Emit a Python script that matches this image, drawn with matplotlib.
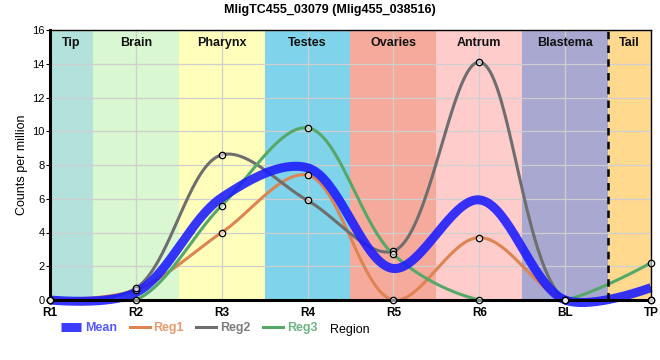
import numpy as np
import matplotlib
matplotlib.use("Agg")
import matplotlib.pyplot as plt
from matplotlib.lines import Line2D

plt.rcParams['font.family'] = ['Liberation Sans', 'DejaVu Sans']

# ---- data ----
samples = ["R1", "R2", "R3", "R4", "R5", "R6", "BL", "TP"]
reg1 = [0.0, 0.6, 4.0, 7.4, 0.0, 3.7, 0.0, 0.0]
reg2 = [0.0, 0.7, 8.6, 5.9, 2.9, 14.1, 0.0, 0.0]
reg3 = [0.0, 0.0, 5.6, 10.2, 2.7, 0.0, 0.0, 2.2]
regions = ["Tip", "Brain", "Pharynx", "Testes", "Ovaries", "Antrum", "Blastema", "Tail"]
region_bounds = [(0, 0.5), (0.5, 1.5), (1.5, 2.5), (2.5, 3.5), (3.5, 4.5), (4.5, 5.5), (5.5, 6.5), (6.5, 7)]
region_colors = ["#b3e2dd", "#d9f7d0", "#ffffbb", "#7fd3ea", "#f5aa9c", "#ffcccc", "#a9a8d1", "#fed98e"]
title = "MligTC455_03079 (Mlig455_038516)"

mean = list(np.mean([reg1, reg2, reg3], axis=0))


def catmull_rom_display(ax, xs, ys, alpha=0.5, n=40):
    """Centripetal Catmull-Rom curve computed in display space, returned in data space."""
    P = ax.transData.transform(np.column_stack([xs, ys]))
    N = len(P)
    out = [P[0]]
    for i in range(N - 1):
        p0 = P[i - 1] if i > 0 else None
        p1, p2 = P[i], P[i + 1]
        p3 = P[i + 2] if i + 2 < N else None
        l12 = np.linalg.norm(p2 - p1)
        l12_a, l12_2a = l12 ** alpha, l12 ** (2 * alpha)
        c1 = p1.copy()
        if p0 is not None:
            l01 = np.linalg.norm(p1 - p0)
            l01_a, l01_2a = l01 ** alpha, l01 ** (2 * alpha)
            if l01_a > 1e-12:
                a = 2 * l01_2a + 3 * l01_a * l12_a + l12_2a
                m = 3 * l01_a * (l01_a + l12_a)
                c1 = (p1 * a - p0 * l12_2a + p2 * l01_2a) / m
        c2 = p2.copy()
        if p3 is not None:
            l23 = np.linalg.norm(p3 - p2)
            l23_a, l23_2a = l23 ** alpha, l23 ** (2 * alpha)
            if l23_a > 1e-12:
                b = 2 * l23_2a + 3 * l23_a * l12_a + l12_2a
                m = 3 * l23_a * (l23_a + l12_a)
                c2 = (p2 * b + p1 * l23_2a - p3 * l12_2a) / m
        t = np.linspace(0, 1, n)[1:, None]
        seg = ((1 - t) ** 3) * p1 + 3 * ((1 - t) ** 2) * t * c1 + 3 * (1 - t) * t ** 2 * c2 + t ** 3 * p2
        out.extend(seg)
    out = np.array(out)
    D = ax.transData.inverted().transform(out)
    return D[:, 0], D[:, 1]


fig = plt.figure(figsize=(6.6, 3.6), dpi=100)
ax = fig.add_axes([50 / 660, 60 / 360, 601 / 660, 270 / 360])

for (a, b), c, name in zip(region_bounds, region_colors, regions):
    ax.axvspan(a, b, color=c, zorder=0, lw=0)
    ax.text((a + b) / 2, 15.6, name, ha='center', va='top', fontsize=9,
            fontweight='bold', color='#111111', zorder=5)

ax.set_xlim(0, 7)
ax.set_ylim(0, 16)
ax.set_yticks(range(0, 17, 2))
ax.set_xticks(range(len(samples)))
ax.set_xticklabels(samples, fontsize=8.5, fontweight='bold')
ax.tick_params(axis='y', labelsize=8, length=3, pad=1)
ax.tick_params(axis='x', length=0, pad=5)
ax.grid(True, color='#cfcfcf', lw=0.9, zorder=1)
ax.set_axisbelow(True)

ax.axvline(6.5, color='black', lw=1.8, ls=(0, (3, 2.5)), zorder=6)

colors = {"Mean": "#1a1aff", "Reg1": "#dd8452", "Reg2": "#6e6e6e", "Reg3": "#55a868"}
xidx = np.arange(len(samples))

for name, vals in [("Reg1", reg1), ("Reg2", reg2), ("Reg3", reg3)]:
    cx, cy = catmull_rom_display(ax, xidx, vals)
    ax.plot(cx, cy, color=colors[name], lw=2.2, zorder=3, solid_capstyle='round')

cx, cy = catmull_rom_display(ax, xidx, mean)
ax.plot(cx, cy, color=colors["Mean"], lw=6.5, alpha=0.88, zorder=4, clip_on=False,
        solid_capstyle='butt')

for vals in (reg1, reg2, reg3):
    ax.plot(xidx, vals, ls='none', marker='o', ms=4.6,
            mfc=(1, 1, 1, 0.55), mec='black', mew=0.9, zorder=7, clip_on=False)

for s in ['top', 'right']:
    ax.spines[s].set_linewidth(1.0)
for s in ['left', 'bottom']:
    ax.spines[s].set_linewidth(2.2)
for s in ax.spines.values():
    s.set_zorder(6.5)

ax.set_ylabel("Counts per million", fontsize=9, labelpad=3)
fig.text(350 / 660, 1 - 330 / 360, "Region", ha='center', va='center', fontsize=9)
fig.text(0.5, 1 - 10 / 360, title, ha='center', va='center', fontsize=9, fontweight='bold')

handles = [Line2D([], [], color=colors["Mean"], lw=6.5, alpha=0.85, solid_capstyle='butt'),
           Line2D([], [], color=colors["Reg1"], lw=2.2),
           Line2D([], [], color=colors["Reg2"], lw=2.2),
           Line2D([], [], color=colors["Reg3"], lw=2.2)]
leg = fig.legend(handles, ["Mean", "Reg1", "Reg2", "Reg3"], loc='center left',
                 bbox_to_anchor=(50 / 660, 1 - 328 / 360), ncol=4, frameon=False,
                 fontsize=9, handlelength=1.6, handletextpad=0.3, columnspacing=1.0)
txt_colors = ["#5858ff", "#e89a6a", "#7d7d7d", "#6cb482"]
for t, c in zip(leg.get_texts(), txt_colors):
    t.set_color(c)
    t.set_fontweight('bold')

fig.savefig("out.png", dpi=100)
